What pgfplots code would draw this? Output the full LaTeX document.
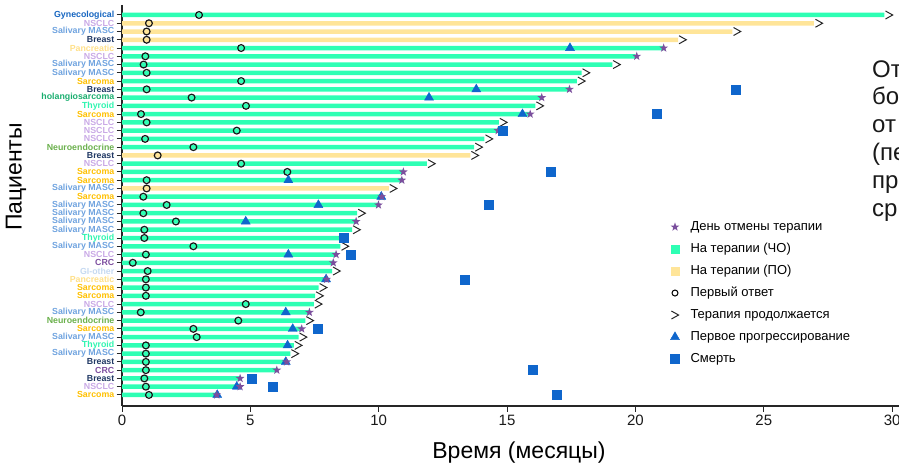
\documentclass[border=0pt]{standalone}
\usepackage{pgfplots}
\pgfplotsset{compat=1.18}
\usepackage{fontspec}
\setmainfont{Liberation Sans}
\definecolor{cGreen}{HTML}{2EFFB4}
\definecolor{cYellow}{HTML}{FFE599}
\definecolor{cStar}{HTML}{7B4F9D}
\definecolor{cBlue}{HTML}{0F66CC}
\definecolor{cGyn}{HTML}{1565C0}
\definecolor{cNSCLC}{HTML}{C9A9E6}
\definecolor{cSal}{HTML}{6FA3DF}
\definecolor{cBreast}{HTML}{203864}
\definecolor{cPanc}{HTML}{FFE08A}
\definecolor{cSarc}{HTML}{FFC000}
\definecolor{cChol}{HTML}{1AAE6F}
\definecolor{cThy}{HTML}{2EF5B0}
\definecolor{cNeuro}{HTML}{6AB04C}
\definecolor{cCRC}{HTML}{7E4FA0}
\definecolor{cGI}{HTML}{C5D9F1}
\pgfdeclareplotmark{chev}{%
  \pgfpathmoveto{\pgfqpoint{-0.9\pgfplotmarksize}{\pgfplotmarksize}}%
  \pgfpathlineto{\pgfqpoint{0.9\pgfplotmarksize}{0pt}}%
  \pgfpathlineto{\pgfqpoint{-0.9\pgfplotmarksize}{-\pgfplotmarksize}}%
  \pgfusepathqstroke}
\pgfdeclareplotmark{fstar}{%
  \pgfpathmoveto{\pgfqpoint{0pt}{\pgfplotmarksize}}%
  \pgfpathlineto{\pgfqpoint{-0.235\pgfplotmarksize}{0.324\pgfplotmarksize}}%
  \pgfpathlineto{\pgfqpoint{-0.951\pgfplotmarksize}{0.309\pgfplotmarksize}}%
  \pgfpathlineto{\pgfqpoint{-0.380\pgfplotmarksize}{-0.124\pgfplotmarksize}}%
  \pgfpathlineto{\pgfqpoint{-0.588\pgfplotmarksize}{-0.809\pgfplotmarksize}}%
  \pgfpathlineto{\pgfqpoint{0pt}{-0.4\pgfplotmarksize}}%
  \pgfpathlineto{\pgfqpoint{0.588\pgfplotmarksize}{-0.809\pgfplotmarksize}}%
  \pgfpathlineto{\pgfqpoint{0.380\pgfplotmarksize}{-0.124\pgfplotmarksize}}%
  \pgfpathlineto{\pgfqpoint{0.951\pgfplotmarksize}{0.309\pgfplotmarksize}}%
  \pgfpathlineto{\pgfqpoint{0.235\pgfplotmarksize}{0.324\pgfplotmarksize}}%
  \pgfpathclose\pgfusepathqfill}
\begin{document}
\begin{tikzpicture}[x=1pt,y=1pt]
\useasboundingbox (0,0) rectangle (899,469);
\begin{axis}[
  at={(122pt,63pt)}, anchor=south west,
  scale only axis, width=783pt, height=401pt,
  xmin=0, xmax=30.5, ymin=-0.21, ymax=48.34, y dir=reverse,
  axis x line=bottom, axis y line=left,
  axis line style={-, draw=black!85, line width=1.2pt},
  tick align=outside, major tick length=5.5pt,
  tick style={draw=black!85, line width=1pt},
  xtick={0,5,...,30},
  ytick={1,...,47},
  /pgf/number format/assume math mode=true,
  xticklabel style={font=\fontsize{15}{15}\selectfont, text=black!90},
  yticklabel style={font=\bfseries\fontsize{8.8}{8.8}\selectfont, inner xsep=2pt, inner ysep=0pt},
  yticklabels={
    \textcolor{cGyn}{Gynecological},
    \textcolor{cNSCLC}{NSCLC},
    \textcolor{cSal}{Salivary MASC},
    \textcolor{cBreast}{Breast},
    \textcolor{cPanc}{Pancreatic},
    \textcolor{cNSCLC}{NSCLC},
    \textcolor{cSal}{Salivary MASC},
    \textcolor{cSal}{Salivary MASC},
    \textcolor{cSarc}{Sarcoma},
    \textcolor{cBreast}{Breast},
    \textcolor{cChol}{holangiosarcoma},
    \textcolor{cThy}{Thyroid},
    \textcolor{cSarc}{Sarcoma},
    \textcolor{cNSCLC}{NSCLC},
    \textcolor{cNSCLC}{NSCLC},
    \textcolor{cNSCLC}{NSCLC},
    \textcolor{cNeuro}{Neuroendocrine},
    \textcolor{cBreast}{Breast},
    \textcolor{cNSCLC}{NSCLC},
    \textcolor{cSarc}{Sarcoma},
    \textcolor{cSarc}{Sarcoma},
    \textcolor{cSal}{Salivary MASC},
    \textcolor{cSarc}{Sarcoma},
    \textcolor{cSal}{Salivary MASC},
    \textcolor{cSal}{Salivary MASC},
    \textcolor{cSal}{Salivary MASC},
    \textcolor{cSal}{Salivary MASC},
    \textcolor{cThy}{Thyroid},
    \textcolor{cSal}{Salivary MASC},
    \textcolor{cNSCLC}{NSCLC},
    \textcolor{cCRC}{CRC},
    \textcolor{cGI}{GI-other},
    \textcolor{cPanc}{Pancreatic},
    \textcolor{cSarc}{Sarcoma},
    \textcolor{cSarc}{Sarcoma},
    \textcolor{cNSCLC}{NSCLC},
    \textcolor{cSal}{Salivary MASC},
    \textcolor{cNeuro}{Neuroendocrine},
    \textcolor{cSarc}{Sarcoma},
    \textcolor{cSal}{Salivary MASC},
    \textcolor{cThy}{Thyroid},
    \textcolor{cSal}{Salivary MASC},
    \textcolor{cBreast}{Breast},
    \textcolor{cCRC}{CRC},
    \textcolor{cBreast}{Breast},
    \textcolor{cNSCLC}{NSCLC},
    \textcolor{cSarc}{Sarcoma}},
  xlabel={Время (месяцы)},
  xlabel style={at={(axis description cs:0.507,-0.115)}, anchor=center, font=\fontsize{23}{23}\selectfont},
  ylabel={Пациенты},
  ylabel style={at={(axis description cs:-0.1354,0.571)}, anchor=center, rotate=0, font=\fontsize{23}{23}\selectfont},
  legend cell align=left,
  legend style={at={(0.7005,0.4613)}, anchor=north west, draw=none, fill=none,
    inner sep=0pt, outer sep=0pt, row sep=10pt,
    font=\fontsize{13}{13}\selectfont,
    nodes={inner xsep=11pt, inner ysep=0pt, text height=9.5pt, text depth=2.5pt}},
]
\addlegendimage{only marks, mark=fstar, mark size=4.6pt, color=cStar}
\addlegendentry{День отмены терапии}
\addlegendimage{only marks, mark=square*, mark size=4.3pt, color=cGreen}
\addlegendentry{На терапии (ЧО)}
\addlegendimage{only marks, mark=square*, mark size=4.3pt, color=cYellow}
\addlegendentry{На терапии (ПО)}
\addlegendimage{only marks, mark=o, mark size=3pt, line width=1pt, color=black}
\addlegendentry{Первый ответ}
\addlegendimage{only marks, mark=chev, mark size=4pt, line width=1pt, color=black!85}
\addlegendentry{Терапия продолжается}
\addlegendimage{only marks, mark=triangle*, mark size=5.2pt, color=cBlue}
\addlegendentry{Первое прогрессирование}
\addlegendimage{only marks, mark=square*, mark size=4.5pt, color=cBlue}
\addlegendentry{Смерть}

% bars (on therapy, CR) -- green
\addplot[xbar, bar width=4.5pt, bar shift=0pt, fill=cGreen, draw=none, forget plot] table {
x y
29.7 1
21.1 5
20.0 6
19.1 7
17.9 8
17.72 9
17.43 10
16.35 11
16.1 12
15.9 13
14.68 14
14.65 15
14.12 16
13.72 17
11.88 19
10.96 20
10.9 21
10.12 23
9.99 24
9.16 25
9.12 26
8.96 27
8.65 28
8.51 29
8.34 30
8.23 31
8.18 32
7.97 33
7.66 34
7.52 35
7.47 36
7.3 37
7.14 38
7.0 39
6.88 40
6.69 41
6.56 42
6.41 43
6.03 44
4.6 45
4.6 46
3.69 47
};
% bars (on therapy, PR) -- yellow
\addplot[xbar, bar width=4.5pt, bar shift=0pt, fill=cYellow, draw=none, forget plot] table {
x y
26.95 2
23.78 3
21.66 4
13.57 18
10.4 22
};
% first response
\addplot[only marks, mark=o, mark size=3.4pt, line width=1.2pt, color=black!90, forget plot] table {
x y
3.0 1
1.05 2
0.96 3
0.96 4
4.64 5
0.91 6
0.84 7
0.96 8
4.64 9
0.96 10
2.71 11
4.83 12
0.74 13
0.96 14
4.47 15
0.9 16
2.78 17
1.39 18
4.64 19
6.44 20
0.96 21
0.96 22
0.83 23
1.74 24
0.83 25
2.1 26
0.87 27
0.87 28
2.78 29
0.93 30
0.42 31
1.0 32
0.93 33
0.93 34
0.93 35
4.82 36
0.73 37
4.53 38
2.78 39
2.91 40
0.93 41
0.93 42
0.93 43
0.93 44
0.87 45
0.93 46
1.05 47
};
% therapy continues
\addplot[only marks, mark=chev, mark size=4pt, line width=1pt, color=black!85, forget plot] table {
x y
29.88 1
27.15 2
23.96 3
21.84 4
19.27 7
18.08 8
17.9 9
16.28 12
14.86 14
14.3 16
13.9 17
13.75 18
12.06 19
10.57 22
9.34 25
9.14 27
8.69 29
8.36 32
7.84 34
7.7 35
7.65 36
7.32 38
7.06 40
6.87 41
6.74 42
};
% first progression
\addplot[only marks, mark=triangle*, mark size=5.2pt, color=cBlue, forget plot] table {
x y
17.45 5
13.8 10
11.96 11
15.6 13
6.48 21
10.1 23
7.65 24
4.82 26
6.48 30
7.95 33
6.38 37
6.65 39
6.45 41
6.38 43
4.47 46
3.71 47
};
% stop day
\addplot[only marks, mark=fstar, mark size=4.6pt, color=cStar, forget plot] table {
x y
21.1 5
20.05 6
17.43 10
16.35 11
15.9 13
14.65 15
10.96 20
10.9 21
10.12 23
9.99 24
9.12 26
8.6 28
8.34 30
8.23 31
7.97 33
7.3 37
7.0 39
6.41 43
6.03 44
4.6 45
4.6 46
3.69 47
};
% death
\addplot[only marks, mark=square*, mark size=4.5pt, color=cBlue, forget plot] table {
x y
23.9 10
20.84 13
14.83 15
16.7 20
14.27 24
8.65 28
8.92 30
13.36 33
7.61 39
16.0 44
5.05 45
5.86 46
16.93 47
};
\end{axis}
\begin{scope}[every node/.style={anchor=base west, inner sep=0pt, font=\fontsize{24}{24}\selectfont, text=black!90}]
\node at (872,391.8) {От};
\node at (872,364) {бо};
\node at (872,336.2) {от};
\node at (872,308.4) {(пе};
\node at (872,280.6) {пр};
\node at (872,252.8) {ср};
\end{scope}
\end{tikzpicture}
\end{document}
